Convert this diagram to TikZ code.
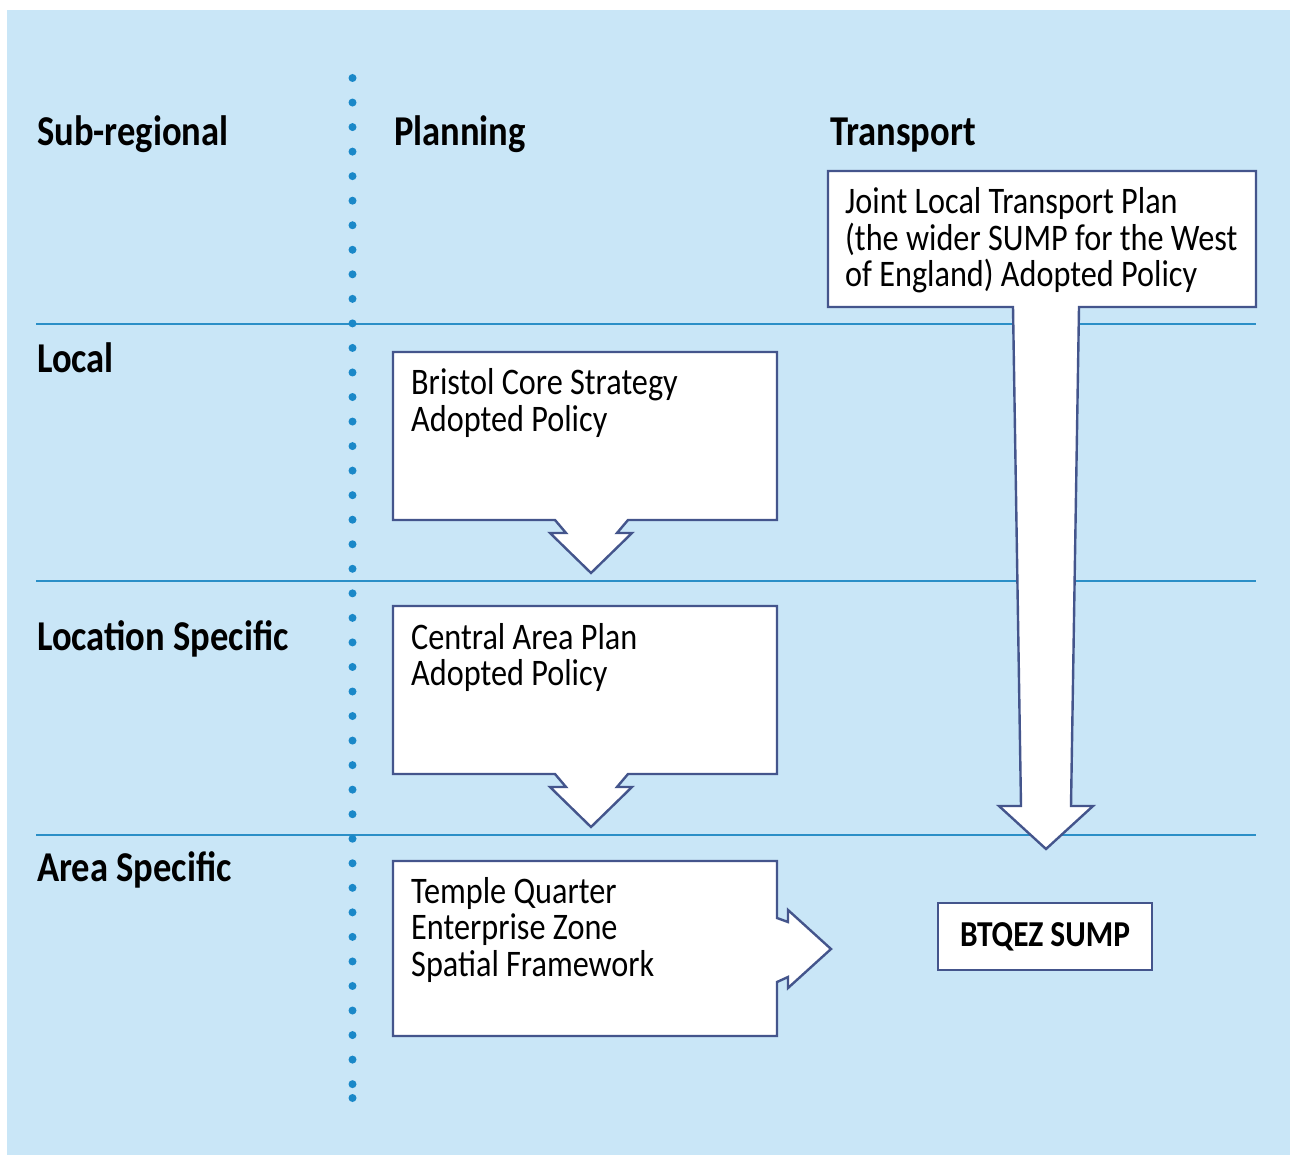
\documentclass[tikz,border=0pt]{standalone}
\usepackage{fontspec}
\setmainfont[FakeStretch=0.86]{Carlito}
\definecolor{bgblue}{HTML}{C9E6F7}
\definecolor{boxline}{HTML}{44558C}
\definecolor{rulecol}{HTML}{2B8FC7}
\definecolor{dotblue}{HTML}{1A88C8}
\begin{document}
\begin{tikzpicture}[x=1pt,y=-1pt,
  boxshape/.style={draw=boxline, line width=2.4pt, fill=white, line join=miter},
  boxtext/.style={anchor=base west, inner sep=0pt, font=\fontsize{37.5}{45}\selectfont},
  header/.style={anchor=base west, inner sep=0pt, font=\fontsize{42.5}{50}\selectfont\bfseries},
  rowrule/.style={draw=rulecol, line width=1.5pt},
  sepdot/.style={fill=dotblue}]
\useasboundingbox (0,0) rectangle (1290,1155);
\fill[bgblue] (7,10) rectangle (1290,1155);
% row rules
\coordinate (r1l) at (36,324); \coordinate (r1r) at (1256,324);
\coordinate (r2l) at (36,581); \coordinate (r2r) at (1256,581);
\coordinate (r3l) at (36,835); \coordinate (r3r) at (1256,835);
\draw[rowrule] (r1l) -- (r1r);
\draw[rowrule] (r2l) -- (r2r);
\draw[rowrule] (r3l) -- (r3r);
% dotted separator
\foreach \i in {0,...,41} \fill[sepdot] (352.5,78+\i*24.54) circle (4);
\fill[sepdot] (352.5,1098) circle (4);
% headers
\node[header] (hsub) at (37,146) {Sub-regional};
\node[header] (hplan) at (394,146) {Planning};
\node[header] (htrans) at (830,146) {Transport};
\node[header] (hlocal) at (37,373) {Local};
\node[header] (hloc) at (37,650) {Location Specific};
\node[header] (harea) at (37,881) {Area Specific};
% Bristol Core Strategy box with down arrow
\draw[boxshape] (393,352) -- (777,352) -- (777,520) -- (628,520) -- (617,533) -- (632,533)
  -- (591,573) -- (550,533) -- (566,533) -- (555,520) -- (393,520) -- cycle;
\node[boxtext] (bcs1) at (411,395) {Bristol Core Strategy};
\node[boxtext] (bcs2) at (411,431.5) {Adopted Policy};
% Central Area Plan box with down arrow
\draw[boxshape] (393,606) -- (777,606) -- (777,774) -- (628,774) -- (617,787) -- (632,787)
  -- (591,827) -- (550,787) -- (566,787) -- (555,774) -- (393,774) -- cycle;
\node[boxtext] (cap1) at (411,649) {Central Area Plan};
\node[boxtext] (cap2) at (411,685.5) {Adopted Policy};
% Temple Quarter box with right arrow
\draw[boxshape] (393,861) -- (777,861) -- (777,918) -- (788,922) -- (788,910) -- (831,949)
  -- (788,988) -- (788,977) -- (777,982) -- (777,1036) -- (393,1036) -- cycle;
\node[boxtext] (tq1) at (411,903) {Temple Quarter};
\node[boxtext] (tq2) at (411,939.5) {Enterprise Zone};
\node[boxtext] (tq3) at (411,976) {Spatial Framework};
% Joint Local Transport Plan box with long down arrow
\draw[boxshape] (828,171) -- (1256,171) -- (1256,307) -- (1079,307) -- (1071,806) -- (1093,806)
  -- (1046,849) -- (999,806) -- (1021,806) -- (1013,307) -- (828,307) -- cycle;
\node[boxtext] (jltp1) at (845,214) {Joint Local Transport Plan};
\node[boxtext] (jltp2) at (845,250.5) {(the wider SUMP for the West};
\node[boxtext] (jltp3) at (845,287) {of England) Adopted Policy};
% BTQEZ SUMP
\node[draw=boxline, line width=2.4pt, fill=white, minimum width=214pt, minimum height=67pt,
  inner sep=0pt, font=\fontsize{36.5}{44}\selectfont\bfseries] (btqez) at (1045,936.5) {BTQEZ SUMP};
\end{tikzpicture}
\end{document}
